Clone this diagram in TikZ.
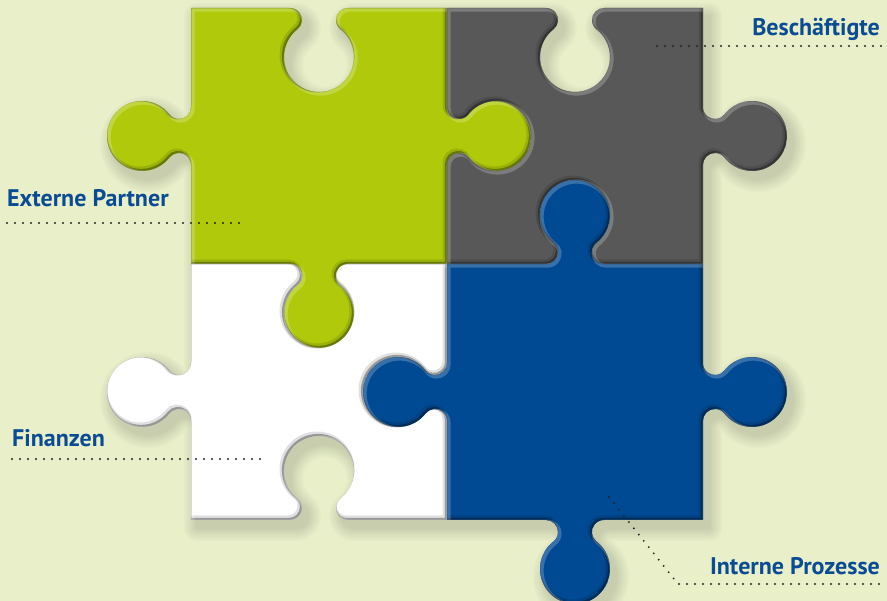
\documentclass[tikz,border=0pt]{standalone}
\usepackage{fontspec}
\setmainfont{PT Sans}
\definecolor{bg}{HTML}{E8EFC9}
\definecolor{pgreen}{HTML}{B0CA0B}
\definecolor{pgray}{HTML}{585858}
\definecolor{pblue}{HTML}{004A93}
\definecolor{pwhite}{HTML}{FFFFFF}
\definecolor{labblue}{HTML}{0A4C93}
\definecolor{dotc}{HTML}{262626}
% one side (bottom side, traversed left to right, outward = down)
\def\sidet{-- (-29,-128) arc[start angle=90,end angle=-51.91,radius=12] arc[start angle=128.09,end angle=411.91,radius=35] arc[start angle=231.91,end angle=90,radius=12] -- (128,-128)}
\def\sideh{-- (-29,-128) arc[start angle=-90,end angle=51.91,radius=12] arc[start angle=231.91,end angle=-51.91,radius=35] arc[start angle=128.09,end angle=270,radius=12] -- (128,-128)}
% sides: bottom, right, top, left
\newcommand\piecepath[4]{(-128,-128) #1 {[rotate=90] #2} {[rotate=180] #3} {[rotate=270] #4} -- cycle}
\newcommand\piecefill[8]{%
  \begin{scope}[shift={(#1,#2)}]
    \filldraw[fill=#4, draw=#4, line width=#3, line join=round] \piecepath{#5}{#6}{#7}{#8};
  \end{scope}}
\newcommand\shadowlayer[2]{%
  \begin{scope}[shift={(6,-8)}]
    \piecefill{319}{-136}{#1}{#2}{\sidet}{\sidet}{\sideh}{\sidet}
    \piecefill{575}{-136}{#1}{#2}{\sideh}{\sidet}{\sideh}{\sideh}
    \piecefill{319}{-392}{#1}{#2}{\sideh}{\sideh}{\sideh}{\sidet}
    \piecefill{575}{-392}{#1}{#2}{\sidet}{\sidet}{\sidet}{\sidet}
  \end{scope}}
\newcommand\piecebody[7]{%
  \begin{scope}[shift={(#1,#2)}]
    \fill[#3] \piecepath{#4}{#5}{#6}{#7};
    \begin{scope}
      \clip \piecepath{#4}{#5}{#6}{#7};
      \draw[black, opacity=0.12, line width=5pt, shift={(-2,2)}] \piecepath{#4}{#5}{#6}{#7};
      \draw[black, opacity=0.32, line width=2.4pt, shift={(-0.9,0.9)}] \piecepath{#4}{#5}{#6}{#7};
      \draw[white, opacity=0.22, line width=4pt, shift={(1.6,-1.6)}] \piecepath{#4}{#5}{#6}{#7};
    \end{scope}
  \end{scope}}
\begin{document}
\begin{tikzpicture}[x=1pt,y=1pt,
  lab/.style={text=labblue, font=\bfseries\fontsize{24}{28}\selectfont, inner sep=0pt},
  dots/.style={draw=dotc, line width=2.1pt, line cap=round, dash pattern=on 0pt off 8pt}]
\useasboundingbox (0,0) rectangle (887,-601);
\fill[bg] (0,0) rectangle (887,-601);
\clip (0,0) rectangle (887,-601);
% soft drop shadows (opaque layers, light to dark)
\foreach \w/\c in {26/98,22/96,18/94,14/92,10/90,6/88,2/86}{\shadowlayer{\w}{bg!\c!black}}
% pieces
\piecebody{319}{-136}{pgreen}{\sidet}{\sidet}{\sideh}{\sidet}
\piecebody{575}{-136}{pgray}{\sideh}{\sidet}{\sideh}{\sideh}
\piecebody{319}{-392}{pwhite}{\sideh}{\sideh}{\sideh}{\sidet}
\piecebody{575}{-392}{pblue}{\sidet}{\sidet}{\sidet}{\sidet}
% labels
\node[lab, anchor=base east] (besch) at (880,-36) {Beschäftigte};
\node[lab, anchor=base west] (ext) at (7,-207) {Externe Partner};
\node[lab, anchor=base west] (fin) at (12,-447) {Finanzen};
\node[lab, anchor=base east] (int) at (880,-575) {Interne Prozesse};
% leader lines
\coordinate (b1) at (657,-46); \coordinate (b2) at (884,-46);
\coordinate (e1) at (7,-223);  \coordinate (e2) at (242,-223);
\coordinate (f1) at (12,-459); \coordinate (f2) at (262,-459);
\coordinate (i1) at (609,-497); \coordinate (i2) at (678,-584); \coordinate (i3) at (884,-584);
\draw[dots] (b1) -- (b2);
\draw[dots] (e1) -- (e2);
\draw[dots] (f1) -- (f2);
\draw[dots] (i1) -- (i2) -- (i3);
\end{tikzpicture}
\end{document}
